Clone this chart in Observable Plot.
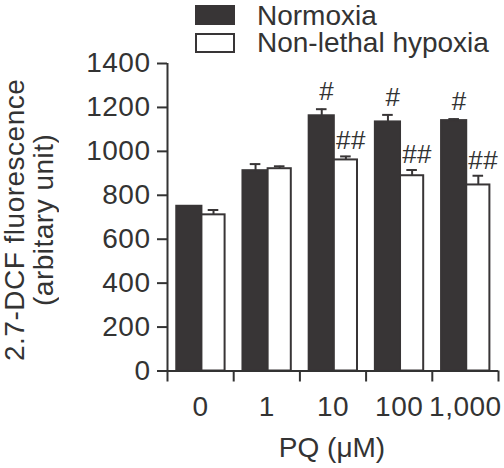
<!DOCTYPE html>
<html><head><meta charset="utf-8">
<script src="https://cdn.jsdelivr.net/npm/d3@7"></script>
<script src="https://cdn.jsdelivr.net/npm/@observablehq/plot@0.6"></script>
<style>
body{margin:0;background:#fff;}
#wrap{position:relative;width:504px;height:468px;font-family:"Liberation Sans",Arial,sans-serif;color:#333;overflow:hidden;}
#wrap svg{position:absolute;left:0;top:0;}
.sw{position:absolute;width:40px;height:20px;box-sizing:border-box;border:2px solid #383536;}
.lt{position:absolute;font-size:28px;line-height:26px;white-space:nowrap;}
#ytitle{position:absolute;left:0px;top:60px;height:320px;width:58px;writing-mode:vertical-rl;transform:rotate(180deg);text-align:center;font-size:28px;line-height:29px;letter-spacing:0.5px;white-space:nowrap;}
#xtitle{position:absolute;left:232px;width:200px;top:434px;text-align:center;font-size:28px;line-height:28px;}
</style></head><body><div id="wrap"></div>
<script>
const categories = ["0", "1", "10", "100", "1,000"];
const seriesNames = ["Normoxia", "Non-lethal hypoxia"];
const normoxia = [750, 912, 1162, 1134, 1140];
const normoxiaErr = [0, 30, 30, 32, 7];
const hypoxia = [711, 921, 961, 889, 847];
const hypoxiaErr = [22, 11, 16, 26, 42];
const sigNormoxia = ["", "", "#", "#", "#"];
const sigHypoxia = ["", "", "##", "##", "##"];
const yTicks = [0, 200, 400, 600, 800, 1000, 1200, 1400];
const xTitle = "PQ (\u03bcM)";
const yTitle = ["2.7-DCF fluorescence", "(arbitary unit)"];

const dark = "#383536";
const ink = "#333";

const rows = [];
categories.forEach((c, i) => {
  rows.push({cat: c, i, series: seriesNames[0], value: normoxia[i], err: normoxiaErr[i], sig: sigNormoxia[i]});
  rows.push({cat: c, i, series: seriesNames[1], value: hypoxia[i], err: hypoxiaErr[i], sig: sigHypoxia[i]});
});
const left = d => d.i + (d.series === seriesNames[0] ? 0.14 : 0.52);
const right = d => d.i + (d.series === seriesNames[0] ? 0.52 : 0.87);
const center = d => (left(d) + right(d)) / 2;
const withErr = rows.filter(d => d.err > 0);

const chart = Plot.plot({
  width: 504,
  height: 468,
  marginTop: 63,
  marginBottom: 97.5,
  marginLeft: 167,
  marginRight: 6,
  x: {domain: [0, categories.length]},
  y: {domain: [0, 1400]},
  color: {domain: seriesNames, range: [dark, "#ffffff"]},
  style: {fontFamily: '"Liberation Sans", Arial, sans-serif', fontSize: "28px", color: ink, background: "transparent", letterSpacing: "0.5px"},
  marks: [
    Plot.rectY(rows, {x1: left, x2: right, y1: 0, y2: "value", fill: "series", stroke: dark, strokeWidth: 2}),
    Plot.ruleX(withErr, {x: center, y1: "value", y2: d => d.value + d.err, stroke: dark, strokeWidth: 2}),
    Plot.ruleY(withErr, {y: d => d.value + d.err, x1: d => center(d) - 0.08, x2: d => center(d) + 0.08, stroke: dark, strokeWidth: 2}),
    Plot.ruleY([0], {stroke: ink, strokeWidth: 2}),
    Plot.ruleX([0], {y1: 0, y2: 1400, stroke: ink, strokeWidth: 2}),
    Plot.axisY({ticks: yTicks, tickSize: 10, tickPadding: 7, stroke: ink, strokeWidth: 2, label: null, fontSize: 28, tickFormat: d => String(d)}),
    Plot.axisX({ticks: d3.range(categories.length + 1), tickSize: 11, tickFormat: () => "", stroke: ink, strokeWidth: 2, label: null}),
    Plot.axisX({ticks: categories.map((c, i) => i + 0.5), tickSize: 0, tickPadding: 25, tickFormat: v => categories[Math.floor(v)], label: null, fontSize: 28}),
    Plot.text(rows.filter(d => d.sig && d.series === seriesNames[0]), {x: center, y: d => d.value + d.err, text: "sig", dx: 5, dy: -9, lineAnchor: "bottom", fontSize: 26, fill: ink}),
    Plot.text(rows.filter(d => d.sig && d.series === seriesNames[1]), {x: center, y: d => d.value + d.err, text: "sig", dx: 5, dy: -7, lineAnchor: "bottom", fontSize: 26, fill: ink})
  ]
});

const wrap = document.getElementById("wrap");
wrap.appendChild(chart);

// legend
seriesNames.forEach((name, k) => {
  const sw = document.createElement("div");
  sw.className = "sw";
  sw.style.left = "195px";
  sw.style.top = (5 + k * 28) + "px";
  sw.style.background = k === 0 ? dark : "#fff";
  wrap.appendChild(sw);
  const t = document.createElement("div");
  t.className = "lt";
  t.style.left = "257px";
  t.style.top = (3.3 + k * 26.7) + "px";
  t.textContent = name;
  wrap.appendChild(t);
});

const yt = document.createElement("div");
yt.id = "ytitle";
yt.innerHTML = yTitle.map(s => "<div>" + s + "</div>").join("");
wrap.appendChild(yt);

const xt = document.createElement("div");
xt.id = "xtitle";
xt.textContent = xTitle;
wrap.appendChild(xt);
</script></body></html>
